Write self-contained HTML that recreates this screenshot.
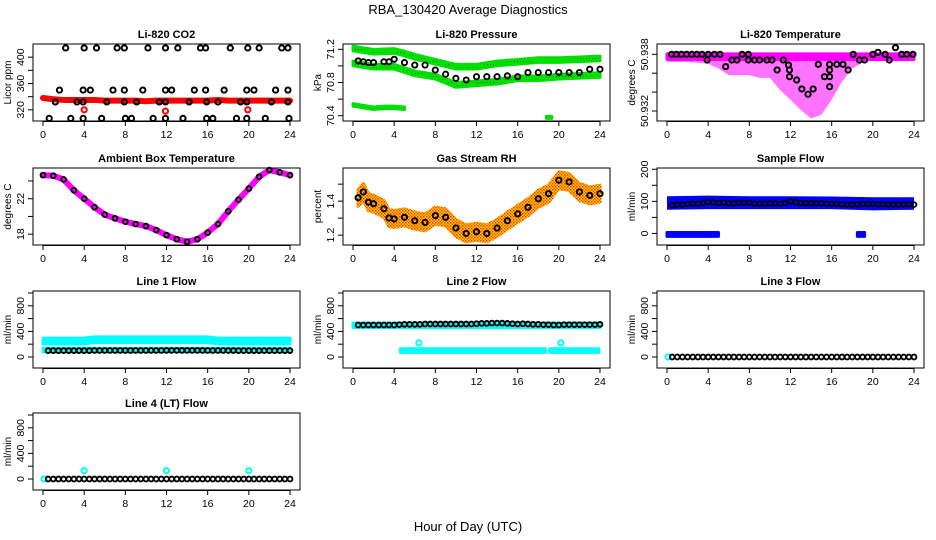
<!DOCTYPE html>
<html><head><meta charset="utf-8">
<style>
html,body{margin:0;padding:0;background:#fff;}
svg{display:block;font-family:"Liberation Sans",Arial,sans-serif;}
</style></head>
<body>
<svg id="chart" width="936" height="540" viewBox="0 0 936 540" xmlns="http://www.w3.org/2000/svg">
<defs>
<pattern id="greenDots" width="3" height="3" patternUnits="userSpaceOnUse"><rect width="3" height="3" fill="#00e000"/><rect x="1" y="1" width="1" height="1" fill="#205020"/></pattern>
<pattern id="rhDots" width="3" height="3" patternUnits="userSpaceOnUse"><rect width="3" height="3" fill="#ffd800"/><rect x="0" y="0" width="1.5" height="1.5" fill="#ff3000"/><rect x="1.5" y="1.5" width="1.5" height="1.5" fill="#ff6000"/></pattern>
</defs>
<text x="468" y="14" text-anchor="middle" font-size="13">RBA_130420  Average Diagnostics</text>
<text x="468" y="531" text-anchor="middle" font-size="13">Hour of Day (UTC)</text>
</svg>
<script>
// ---------- data ----------
const xTickLabels = [0,4,8,12,16,20,24];
const halfHours = [0.5,1,1.5,2,2.5,3,3.5,4,4.5,5,5.5,6,6.5,7,7.5,8,8.5,9,9.5,10,10.5,11,11.5,12,12.5,13,13.5,14,14.5,15,15.5,16,16.5,17,17.5,18,18.5,19,19.5,20,20.5,21,21.5,22,22.5,23,23.5,24];

// CO2
const co2RedHours = [0,1,2,3,4,5,6,7,8,9,10,11,12,13,14,15,16,17,18,19,20,21,22,23,24];
const co2RedValues = [338,336,335,335,335,335,334,334,334,334,333,334,334,334,334,334,334,335,334,334,334,334,334,334,334];
const co2BlackHours = [2.2,4.0,5.2,7.2,7.9,10.2,11.9,13.1,15.3,15.8,18.2,19.9,21.0,23.2,23.8,
 1.6,3.9,4.6,6.8,7.9,9.7,11.9,12.5,14.7,15.8,17.6,19.8,20.5,22.6,23.8,
 1.2,3.3,3.9,6.2,7.9,9.1,11.3,11.9,14.2,15.9,17.0,19.2,19.8,22.2,23.8,
 0.6,2.7,3.9,5.7,8.0,8.6,10.7,11.9,13.6,15.9,16.5,18.8,19.8,21.6,23.9];
const co2BlackValues = [414,414,414,414,414,414,414,414,414,414,414,414,414,414,414,
 350,350,350,350,350,350,350,350,350,350,350,350,350,350,350,
 332,332,332,332,332,332,332,332,332,332,332,332,332,332,332,
 307,307,307,307,307,307,307,307,307,307,307,307,307,307,307];
const co2RedPtHours = [4.0,11.9,19.9];
const co2RedPtValues = [320,318,320];

// Pressure
const pUpperHours = [0,2,4,5,6,8,10,12,14,16,18,20,22,24];
const pUpperValues = [71.21,71.17,71.18,71.15,71.11,71.05,70.99,70.99,71.03,71.05,71.07,71.07,71.08,71.09];
const pLowerHours = [0,2,4,6,8,10,12,14,16,18,20,22,24];
const pLowerValues = [71.03,70.99,70.99,70.91,70.87,70.77,70.79,70.81,70.85,70.85,70.87,70.88,70.89];
const pLowHours = [0,1,2,3,4,5];
const pLowValues = [70.53,70.51,70.49,70.50,70.50,70.49];
const pBlobHours = [18.8,19.3];
const pBlobValues = [70.38,70.38];
const pAvgHours = [0.5,1,1.5,2,3,3.5,4,5,6,7,8,9,10,11,12,13,14,15,16,17,18,19,20,21,22,23,24];
const pAvgValues = [71.06,71.05,71.04,71.04,71.05,71.05,71.08,71.04,71.01,71.01,70.95,70.90,70.85,70.83,70.87,70.87,70.87,70.88,70.87,70.92,70.92,70.92,70.92,70.92,70.92,70.96,70.96];

// Li-820 temperature
const tTopHours = [0,24];
const tTopValues = [50.93805,50.93805];
const tLowHours = [0,2,4,5,6,7,8,9,10,11,12,13,14,15,16,17,18,19,20,22,24];
const tLowValues = [50.9372,50.9372,50.9370,50.9365,50.9358,50.9358,50.9358,50.9355,50.9355,50.9342,50.9332,50.9321,50.9312,50.9316,50.9332,50.9351,50.9365,50.9371,50.9374,50.9374,50.9374];
const tAvgHours = [0.45,0.9,1.4,1.9,2.4,2.9,3.4,4.0,4.6,5.15,7.3,7.9,18.1,20.0,21.2,22.8,23.3,23.9,20.5,22.2,
 3.9,5.7,6.3,6.8,7.9,8.5,9.0,9.7,10.2,11.3,10.7,11.8,11.9,11.9,12.6,13.1,13.7,14.2,14.7,15.3,15.8,15.8,15.8,15.8,16.5,17.1,17.6,18.7,19.2,21.6];
const tAvgValues = [50.938,50.938,50.938,50.938,50.938,50.938,50.938,50.938,50.938,50.938,50.938,50.938,50.938,50.938,50.938,50.938,50.938,50.938,50.93821,50.9387,
 50.9374,50.9367,50.9374,50.9374,50.9374,50.9374,50.9374,50.9374,50.9374,50.9374,50.93634,50.93687,50.93634,50.93563,50.93528,50.93433,50.93377,50.93433,50.93694,50.93563,50.93694,50.93634,50.93563,50.93457,50.93694,50.93694,50.93634,50.9374,50.9374,50.9374];

// Ambient box temperature
const ambHours = [0,1,2,3,4,5,6,7,8,9,10,11,12,13,14,15,16,17,18,19,20,21,22,23,24];
const ambValues = [24.66,24.59,24.17,22.95,22.0,21.04,20.21,19.78,19.41,19.14,18.91,18.46,17.89,17.43,17.15,17.43,18.18,19.14,20.58,21.89,23.14,24.47,25.23,24.97,24.66];

// Gas stream RH
const rhHours = [0.5,1,1.5,2,3,3.5,4,5,6,7,8,9,10,11,12,13,14,15,16,17,18,19,20,21,22,23,24];
const rhValues = [1.42,1.454,1.394,1.385,1.355,1.301,1.295,1.305,1.285,1.275,1.315,1.305,1.242,1.21,1.22,1.21,1.242,1.285,1.325,1.364,1.414,1.444,1.523,1.513,1.454,1.434,1.444];

// Sample flow
const sBandHours = [0,4,8,12,16,20,24];
const sBandHi = [116,118,116,116,115,113,113];
const sBandLo = [74,76,76,76,76,72,74];
const sZeroHours = [0,5];
const sZeroValues = [-3,-3];
const sZero2Hours = [18.5,19.2];
const sZero2Values = [-3,-3];
const sAvgValues = [88,90,90,92,93,93,95,98,97,95,96,94,94,96,95,96,93,93,93,94,94,93,95,100,97,95,94,94,94,94,93,92,92,91,90,90,91,92,92,92,91,91,90,90,90,90,91,90];

// Line flows
const l1HiHours = [0,4,5,16,17,24];
const l1HiValues = [250,250,270,270,250,250];
const l1LoHours = [0,24];
const l1LoValues = [108,108];
const l1AvgValues = [100,100,100,100,100,100,100,100,100,102,102,102,102,102,102,102,102,102,102,102,102,102,102,103,103,103,103,103,103,103,103,102,102,102,102,101,101,100,100,100,100,100,100,100,100,100,100,100];
const l2HiHours = [0,24];
const l2HiValues = [495,495];
const l2LoHours = [4.6,18.7];
const l2LoValues = [100,100];
const l2Lo2Hours = [19.1,23.9];
const l2Lo2Values = [100,100];
const l2PtHours = [6.4,20.2];
const l2PtValues = [220,220];
const l2AvgValues = [500,500,500,500,500,500,500,500,505,510,510,510,510,515,515,515,515,515,515,515,515,515,515,520,525,525,530,530,530,525,520,515,520,515,510,510,505,505,500,500,505,505,505,505,505,505,505,510];
const l3AvgValues = [0,0,0,0,0,0,0,0,0,0,0,0,0,0,0,0,0,0,0,0,0,0,0,0,0,0,0,0,0,0,0,0,0,0,0,0,0,0,0,0,0,0,0,0,0,0,0,0];
const l3PtHours = [0.1];
const l3PtValues = [0];
const l4AvgValues = [0,0,0,0,0,0,0,0,0,0,0,0,0,0,0,0,0,0,0,0,0,0,0,0,0,0,0,0,0,0,0,0,0,0,0,0,0,0,0,0,0,0,0,0,0,0,0,0];
const l4PtHours = [0.1,4,12,20];
const l4PtValues = [0,130,130,130];

// ---------- drawing ----------
const NS = 'http://www.w3.org/2000/svg';
const svg = document.getElementById('chart');
function mk(tag, attrs, parent){
  const e = document.createElementNS(NS, tag);
  for (const k in attrs) e.setAttribute(k, attrs[k]);
  (parent || svg).appendChild(e);
  return e;
}
const colL = [33, 343, 657];
const rowT = [44, 168, 291, 413];
const PH = 77, PW = 267;

function panel(c, r, name, title, ylab, vTop, vBot, yTicks, yLabels){
  const L = colL[c], T = rowT[r], B = T + PH, R = L + PW;
  const g = mk('g', {});
  
  
  const x = h => L + 10 + h * 247 / 24;
  const y = v => T + (vTop - v) / (vTop - vBot) * PH;
  const marks = mk('g', {}, g);
  
  
  const box = mk('rect', {x: L, y: T, width: PW, height: PH, fill: 'none', stroke: '#000', 'stroke-width': 1}, g);
  
  
  const t = mk('text', {x: (L + R) / 2, y: T - 6, 'text-anchor': 'middle', 'font-size': 11, 'font-weight': 'bold'}, g);
  t.textContent = title;
  
  
  const yl = mk('text', {x: 0, y: 0, transform: `translate(${L - 22},${(T + B) / 2}) rotate(-90)`, 'text-anchor': 'middle', 'font-size': 10}, g);
  yl.textContent = ylab;
  
  
  xTickLabels.forEach(h => {
    const tk = mk('line', {x1: x(h), x2: x(h), y1: B, y2: B + 5, stroke: '#000'}, g);
    
    
    const tl = mk('text', {x: x(h), y: B + 17, 'text-anchor': 'middle', 'font-size': 10.5}, g);
    tl.textContent = h;
    
    
  });
  const ax = mk('line', {x1: x(0), x2: x(24), y1: B + 0.5, y2: B + 0.5, stroke: '#000'}, g);
  
  
  yTicks.forEach(v => {
    const tk = mk('line', {x1: L - 5, x2: L, y1: y(v), y2: y(v), stroke: '#000'}, g);
    
    
  });
  yLabels.forEach(v => {
    const tl = mk('text', {x: 0, y: 0, transform: `translate(${L - 9},${y(v)}) rotate(-90)`, 'text-anchor': 'middle', 'font-size': 10.5}, g);
    tl.textContent = v;
    
    
  });
  return {x, y, g: marks};
}

function band(p, hours, vals, half, fill, name, opacity){
  let top = [], bot = [];
  hours.forEach((h, i) => { top.push(p.x(h) + ',' + p.y(vals[i] + half)); bot.unshift(p.x(h) + ',' + p.y(vals[i] - half)); });
  const e = mk('polygon', {points: top.concat(bot).join(' '), fill: fill, 'fill-opacity': opacity || 1, stroke: fill === 'url(#greenDots)' ? '#00e000' : fill, 'stroke-width': 3, 'stroke-linejoin': 'round', 'stroke-opacity': opacity || 1}, p.g);
  
  
}
function area(p, hours, hi, loHours, lo, fill, name, opacity){
  let pts = hours.map((h, i) => p.x(h) + ',' + p.y(hi[i]));
  for (let i = loHours.length - 1; i >= 0; i--) pts.push(p.x(loHours[i]) + ',' + p.y(lo[i]));
  const e = mk('polygon', {points: pts.join(' '), fill: fill, 'fill-opacity': opacity || 1}, p.g);
  
  
}
function thick(p, hours, vals, w, color, name){
  const e = mk('polyline', {points: hours.map((h, i) => p.x(h) + ',' + p.y(vals[i])).join(' '), fill: 'none', stroke: color, 'stroke-width': w, 'stroke-linejoin': 'round', 'stroke-linecap': 'round'}, p.g);
  
  
}
function circles(p, hours, vals, color, name, r, sw){
  hours.forEach((h, i) => {
    const e = mk('circle', {cx: p.x(h), cy: p.y(vals[i]), r: r || 2.6, fill: 'none', stroke: color, 'stroke-width': sw || 1.5}, p.g);
    
    
  });
}

// Panel 1: CO2
const p1 = panel(0, 0, 'co2-panel', 'Li-820 CO2', 'Licor ppm', 420, 303, [320,340,360,380,400], [320,360,400]);
thick(p1, co2RedHours, co2RedValues, 6, '#ff0000', 'co2-red-series');
circles(p1, co2BlackHours, co2BlackValues, '#000', 'co2-avg-point', 2.6, 2);
circles(p1, co2RedPtHours, co2RedPtValues, '#ff0000', 'co2-red-outlier', 2.6, 2);

// Panel 2: Pressure
const p2 = panel(1, 0, 'pressure-panel', 'Li-820 Pressure', 'kPa', 71.264, 70.336, [70.4,70.6,70.8,71.0,71.2], ['70.4','70.8','71.2']);
band(p2, pUpperHours, pUpperValues, 0.028, 'url(#greenDots)', 'pressure-upper-band');
band(p2, pLowerHours, pLowerValues, 0.028, 'url(#greenDots)', 'pressure-lower-band');
band(p2, pLowHours, pLowValues, 0.015, 'url(#greenDots)', 'pressure-low-band');
band(p2, pBlobHours, pBlobValues, 0.012, 'url(#greenDots)', 'pressure-low-blob');
circles(p2, pAvgHours, pAvgValues, '#000', 'pressure-avg-point', 2.6, 1.9);

// Panel 3: Li-820 Temperature
const p3 = panel(2, 0, 'li820-temp-panel', 'Li-820 Temperature', 'degrees C', 50.93909, 50.93094, [50.932,50.934,50.936,50.938], ['50.932','50.938']);
area(p3, tTopHours, tTopValues, tLowHours, tLowValues, '#ff00ff', 'temp-spread-area', 0.55);
band(p3, tTopHours, [50.93775,50.93775], 0.0003, '#ff00ff', 'temp-top-band');
circles(p3, tAvgHours, tAvgValues, '#000', 'temp-avg-point', 2.6, 2);

// Panel 4: Ambient
const p4 = panel(0, 1, 'ambient-temp-panel', 'Ambient Box Temperature', 'degrees C', 25.46, 16.78, [18,20,22,24], [18,22]);
thick(p4, ambHours, ambValues, 6, '#ff00ff', 'ambient-series');
circles(p4, ambHours, ambValues, '#000', 'ambient-avg-point', 2.4, 1.9);

// Panel 5: RH
const p5 = panel(1, 1, 'rh-panel', 'Gas Stream RH', 'percent', 1.595, 1.142, [1.2,1.3,1.4,1.5], ['1.2','1.4']);
band(p5, rhHours, rhValues, 0.05, 'url(#rhDots)', 'rh-spread-band');
circles(p5, rhHours, rhValues, '#000', 'rh-avg-point', 2.6, 2);

// Panel 6: Sample flow
const p6 = panel(2, 1, 'sample-flow-panel', 'Sample Flow', 'ml/min', 204, -36, [0,50,100,150,200], [0,100,200]);
area(p6, sBandHours, sBandHi, sBandHours, sBandLo, '#0000ff', 'sample-flow-band');
band(p6, sZeroHours, sZeroValues, 6, '#0000ff', 'sample-zero-band');
band(p6, sZero2Hours, sZero2Values, 6, '#0000ff', 'sample-zero-band-2');
circles(p6, halfHours, sAvgValues, '#000', 'sample-avg-point', 2.4, 1.8);

// Panel 7: Line 1
const p7 = panel(0, 2, 'line1-flow-panel', 'Line 1 Flow', 'ml/min', 1031, -172, [0,200,400,600,800,1000], [0,400,800]);
band(p7, l1HiHours, l1HiValues, 45, '#00ffff', 'line1-cyan-band');
band(p7, l1LoHours, l1LoValues, 28, '#00ffff', 'line1-cyan-low-band');
circles(p7, halfHours, l1AvgValues, '#000', 'line1-avg-point', 2.4, 1.9);

// Panel 8: Line 2
const p8 = panel(1, 2, 'line2-flow-panel', 'Line 2 Flow', 'ml/min', 1031, -172, [0,200,400,600,800,1000], [0,400,800]);
band(p8, l2HiHours, l2HiValues, 35, '#00ffff', 'line2-cyan-band');
band(p8, l2LoHours, l2LoValues, 28, '#00ffff', 'line2-cyan-low-band');
band(p8, l2Lo2Hours, l2Lo2Values, 28, '#00ffff', 'line2-cyan-low-band-2');
circles(p8, l2PtHours, l2PtValues, '#00ffff', 'line2-cyan-point', 2.6, 2);
circles(p8, halfHours, l2AvgValues, '#000', 'line2-avg-point', 2.4, 1.9);

// Panel 9: Line 3
const p9 = panel(2, 2, 'line3-flow-panel', 'Line 3 Flow', 'ml/min', 1031, -172, [0,200,400,600,800,1000], [0,400,800]);
circles(p9, l3PtHours, l3PtValues, '#00ffff', 'line3-cyan-point', 2.6, 2);
circles(p9, halfHours, l3AvgValues, '#000', 'line3-avg-point', 2.4, 1.9);

// Panel 10: Line 4
const p10 = panel(0, 3, 'line4-flow-panel', 'Line 4 (LT) Flow', 'ml/min', 1031, -172, [0,200,400,600,800,1000], [0,400,800]);
circles(p10, l4PtHours, l4PtValues, '#00ffff', 'line4-cyan-point', 2.6, 2);
circles(p10, halfHours, l4AvgValues, '#000', 'line4-avg-point', 2.4, 1.9);
</script>
</body></html>
